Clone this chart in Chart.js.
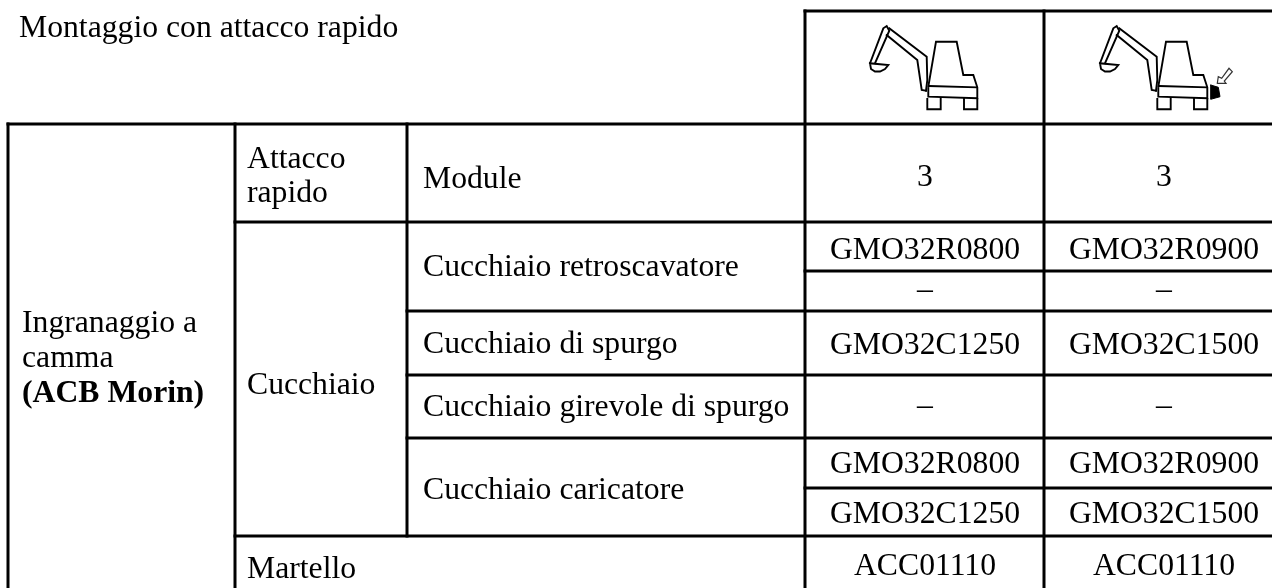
<!DOCTYPE html>
<html lang="it">
<head>
<meta charset="UTF-8" />
<title>Montaggio con attacco rapido</title>
<script src="https://cdn.jsdelivr.net/npm/chart.js"></script>
<style>
  html, body { margin: 0; padding: 0; background: #fff; }
  canvas { display: block; }
</style>
</head>
<body>
<canvas id="tableChart" width="1272" height="588"></canvas>
<script>
// table text
const title = 'Montaggio con attacco rapido';
const groupLines = ['Ingranaggio a', 'camma'];
const groupBold = '(ACB Morin)';
const sections = ['Attacco', 'rapido', 'Cucchiaio', 'Martello'];
const items = ['Module', 'Cucchiaio retroscavatore', 'Cucchiaio di spurgo', 'Cucchiaio girevole di spurgo', 'Cucchiaio caricatore'];
const codesA = ['3', 'GMO32R0800', '–', 'GMO32C1250', '–', 'GMO32R0800', 'GMO32C1250', 'ACC01110'];
const codesB = ['3', 'GMO32R0900', '–', 'GMO32C1500', '–', 'GMO32R0900', 'GMO32C1500', 'ACC01110'];

// rulings on the page scale: [x1, y1, x2, y2]
const rulesH = [
  [805, 11, 1272, 11], [8, 124, 1272, 124], [235, 222, 1272, 222], [805, 271, 1272, 271],
  [407, 311, 1272, 311], [407, 375, 1272, 375], [407, 438, 1272, 438], [805, 488, 1272, 488],
  [235, 536, 1272, 536]
];
const rulesV = [
  [8, 124, 8, 588], [235, 124, 235, 588], [407, 124, 407, 536], [805, 11, 805, 588], [1044, 11, 1044, 588]
];

// excavator outline
const excavator = [
  [[870, 63.3], [883.3, 28.3], [886.7, 26], [889.3, 30.7], [875, 63.3]],
  [[889.3, 28.3], [926.7, 56.7], [927.3, 80], [926, 90.7]],
  [[886.7, 35], [917.3, 60], [921.7, 90], [926, 90.7]],
  [[870, 63.3], [888.3, 65], [885, 69], [880, 71.5], [875, 71.5], [871, 69], [870, 63.3]],
  [[928.3, 86.7], [936, 41.7], [956.7, 41.7], [963.3, 75], [973.3, 75], [977.3, 87.3], [977.3, 98.3], [928.3, 96.7], [928.3, 86.7]],
  [[929.3, 86], [976.7, 87.3]],
  [[927.3, 99], [927.3, 109.3], [940.7, 109.3], [940.7, 98]],
  [[964, 99], [964, 109.3], [977.3, 109.3], [977.3, 99]]
];
const excavatorShift = 230;
const blade = [[1210.7, 85], [1218.3, 87.3], [1220, 96.7], [1210.7, 99.3], [1210.7, 85]];
const arrow = [[1217.3, 83.3], [1218.3, 76.7], [1221.7, 78.3], [1229, 68.3], [1232.3, 71.7], [1224.3, 81], [1226, 83.3], [1217.3, 83.3]];

// text anchors on the page scale
const colA = 925;
const colB = 1164;
const codeBaselines = [186, 259, 299, 354, 415, 473, 523, 575];
const itemBaselines = [188, 276, 353, 416, 499];

const toPoints = (points, dx = 0) => points.map(([x, y]) => ({ x: x + dx, y }));

const lineSet = (points, width) => ({
  data: points,
  showLine: true,
  borderColor: '#000',
  borderWidth: width,
  pointRadius: 0,
  tension: 0,
  fill: false,
  borderCapStyle: 'square'
});

const datasets = [
  ...[...rulesH, ...rulesV].map(([x1, y1, x2, y2]) => lineSet([{ x: x1, y: y1 }, { x: x2, y: y2 }], 3)),
  ...excavator.map(part => lineSet(toPoints(part), 1.9)),
  ...excavator.map(part => lineSet(toPoints(part, excavatorShift), 1.9)),
  { ...lineSet(toPoints(blade), 1), fill: 'shape', backgroundColor: '#000' },
  { ...lineSet(toPoints(arrow), 1.2), borderColor: '#333' }
];

const bodyFont = '31.7px "Liberation Serif"';
const boldFont = 'bold 31.7px "Liberation Serif"';

const tableText = {
  id: 'tableText',
  afterDatasetsDraw(chart) {
    const { ctx, scales } = chart;
    const put = (text, x, y, font = bodyFont, align = 'left') => {
      ctx.font = font;
      ctx.textAlign = align;
      ctx.textBaseline = 'alphabetic';
      ctx.fillStyle = '#000';
      ctx.fillText(text, scales.x.getPixelForValue(x), scales.y.getPixelForValue(y));
    };
    ctx.save();
    put(title, 19, 37);
    put(groupLines[0], 22, 332);
    put(groupLines[1], 22, 367);
    put(groupBold, 22, 402, boldFont);
    put(sections[0], 247, 168);
    put(sections[1], 247, 202);
    put(sections[2], 247, 394);
    put(sections[3], 247, 578);
    items.forEach((item, i) => put(item, 423, itemBaselines[i]));
    codesA.forEach((code, i) => put(code, colA, codeBaselines[i], bodyFont, 'center'));
    codesB.forEach((code, i) => put(code, colB, codeBaselines[i], bodyFont, 'center'));
    ctx.restore();
  }
};

new Chart(document.getElementById('tableChart'), {
  type: 'scatter',
  data: { datasets },
  plugins: [tableText],
  options: {
    responsive: false,
    animation: false,
    layout: { padding: 0 },
    clip: false,
    plugins: { legend: { display: false }, tooltip: { enabled: false } },
    scales: {
      x: { type: 'linear', display: false, min: 0, max: 1272 },
      y: { type: 'linear', display: false, min: 0, max: 588, reverse: true }
    }
  }
});
</script>
</body>
</html>
